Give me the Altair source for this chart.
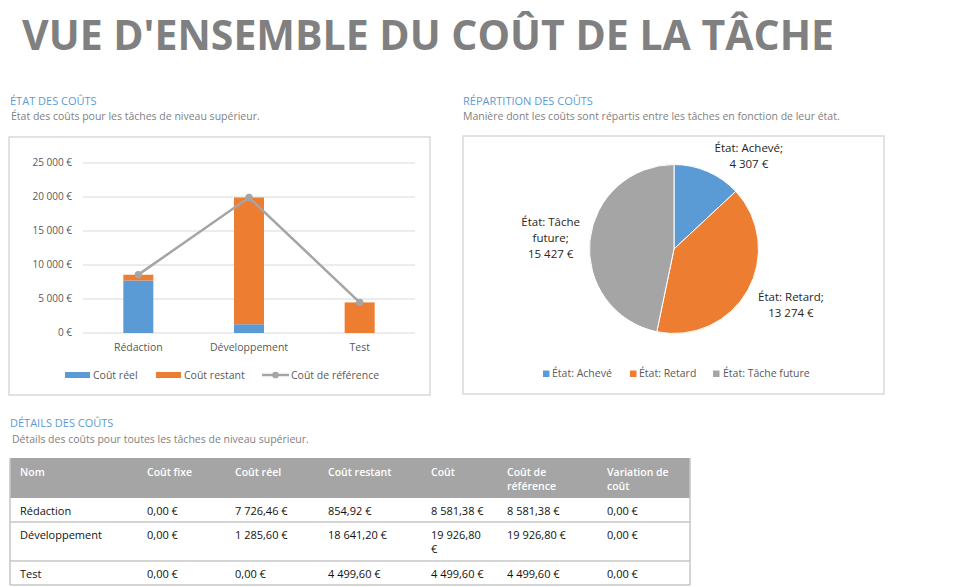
import math
import textwrap

import altair as alt
import pandas as pd

# ---------------- data ----------------
TASKS = ["Rédaction", "Développement", "Test"]
FIXED_COST = [0.00, 0.00, 0.00]
ACTUAL_COST = [7726.46, 1285.60, 0.00]
REMAINING_COST = [854.92, 18641.20, 4499.60]
COST = [8581.38, 19926.80, 4499.60]
BASELINE_COST = [8581.38, 19926.80, 4499.60]
COST_VARIANCE = [0.00, 0.00, 0.00]

STATES = ["État: Achevé", "État: Retard", "État: Tâche future"]
STATE_COSTS = [4307, 13274, 15427]

Y_TICKS = [0, 5000, 10000, 15000, 20000, 25000]
SERIES = ["Coût réel", "Coût restant", "Coût de référence"]
TABLE_COLUMNS = ["Nom", "Coût fixe", "Coût réel", "Coût restant", "Coût",
                 "Coût de référence", "Variation de coût"]

TITLE = "VUE D'ENSEMBLE DU COÛT DE LA TÂCHE"

# ---------------- style / layout ----------------
FONT = "Open Sans"
BLUE, ORANGE, GRAY = "#5b9bd5", "#ed7d31", "#a5a5a5"
HEAD_BLUE = "#5b9bd5"
SUB_GRAY = "#7f7f7f"
AXIS_TXT = "#595959"
GRID = "#d9d9d9"
BORDER = "#d9d9d9"
TABLE_LINE = "#c6c6c6"

BAR_X_RANGE = [83, 415]
BAR_Y_RANGE = [333, 163]
BAR_Y_DOMAIN = [0, 25000]

PIE_CX, PIE_CY, PIE_R = 674, 249, 84.5
LABEL_R = 125
LABEL_NUDGE = {"État: Achevé": (25, 15), "État: Retard": (8, -12), "État: Tâche future": (1, -13)}

TABLE_LEFT = 10
COL_WIDTHS = [127, 88, 93, 103, 76, 100, 93]
COL_WRAP = [20, 14, 14, 16, 10, 12, 12]
HEADER_TOP, HEADER_BOTTOM = 458, 498
ROW_BOUNDS = [498, 522, 561, 585]


def fr_int(v):
    return f"{v:,.0f}".replace(",", " ") + " €"


def fr_money(v):
    return f"{v:,.2f}".replace(",", " ").replace(".", ",") + " €"


def text_at(txt, x, y, size, color, weight="normal", align="left", baseline="alphabetic"):
    return alt.Chart(pd.DataFrame({"t": [txt]})).mark_text(
        align=align, baseline=baseline, fontSize=size, color=color,
        font=FONT, fontWeight=weight
    ).encode(x=alt.value(x), y=alt.value(y), text="t:N")


def box(x1, x2, y1, y2, fill=None, stroke=None, sw=1):
    kw = {}
    if fill is not None:
        kw["fill"] = fill
    else:
        kw["fillOpacity"] = 0
    if stroke is not None:
        kw["stroke"] = stroke
        kw["strokeWidth"] = sw
    return alt.Chart(pd.DataFrame({"a": [0]})).mark_rect(**kw).encode(
        x=alt.value(x1), x2=alt.value(x2), y=alt.value(y1), y2=alt.value(y2))


def hline(x1, x2, y, color, sw=1):
    return alt.Chart(pd.DataFrame({"a": [0]})).mark_rule(color=color, strokeWidth=sw).encode(
        x=alt.value(x1), x2=alt.value(x2), y=alt.value(y))


def vline(x, y1, y2, color, sw=1):
    return alt.Chart(pd.DataFrame({"a": [0]})).mark_rule(color=color, strokeWidth=sw).encode(
        x=alt.value(x), y=alt.value(y1), y2=alt.value(y2))


layers = []

# ---------------- titles ----------------
layers.append(text_at(TITLE, 22, 50, 41, "#808080", weight="bold"))
layers.append(text_at("ÉTAT DES COÛTS", 10, 105, 11, HEAD_BLUE))
layers.append(text_at("État des coûts pour les tâches de niveau supérieur.", 11, 119.5, 10.5, SUB_GRAY))
layers.append(text_at("RÉPARTITION DES COÛTS", 463, 104.5, 11, HEAD_BLUE))
layers.append(text_at("Manière dont les coûts sont répartis entre les tâches en fonction de leur état.",
                      463, 120, 10.5, SUB_GRAY))
layers.append(text_at("DÉTAILS DES COÛTS", 10, 427, 11, HEAD_BLUE))
layers.append(text_at("Détails des coûts pour toutes les tâches de niveau supérieur.", 12, 443, 10.5, SUB_GRAY))

# panel borders
layers.append(box(9, 430, 137, 395, stroke=BORDER, sw=1.5))
layers.append(box(463, 884, 136, 394, stroke=BORDER, sw=1.5))

# ---------------- bar chart ----------------
x_scale = alt.Scale(type="point", domain=TASKS, range=BAR_X_RANGE, padding=0.5)
y_scale = alt.Scale(domain=BAR_Y_DOMAIN, range=BAR_Y_RANGE, nice=False, zero=True)

tick_df = pd.DataFrame({"v": Y_TICKS, "lab": [fr_int(v) for v in Y_TICKS]})
layers.append(alt.Chart(tick_df).mark_rule(color=GRID, strokeWidth=1).encode(
    y=alt.Y("v:Q", scale=y_scale, axis=None),
    x=alt.value(BAR_X_RANGE[0]), x2=alt.value(BAR_X_RANGE[1])))
layers.append(alt.Chart(tick_df).mark_text(
    align="right", baseline="middle", fontSize=10, color=AXIS_TXT, font=FONT).encode(
    y=alt.Y("v:Q", scale=y_scale, axis=None), x=alt.value(72), text="lab:N"))

bar_rows = []
for i, t in enumerate(TASKS):
    bar_rows.append({"task": t, "series": SERIES[0], "value": ACTUAL_COST[i], "k": 0})
    bar_rows.append({"task": t, "series": SERIES[1], "value": REMAINING_COST[i], "k": 1})
bar_df = pd.DataFrame(bar_rows)
layers.append(alt.Chart(bar_df).mark_bar(size=30).encode(
    x=alt.X("task:N", scale=x_scale, axis=None),
    y=alt.Y("value:Q", stack="zero", scale=y_scale, axis=None),
    color=alt.Color("series:N", scale=alt.Scale(domain=SERIES[:2], range=[BLUE, ORANGE]), legend=None),
    order=alt.Order("k:Q")))

line_df = pd.DataFrame({"task": TASKS, "base": BASELINE_COST})
layers.append(alt.Chart(line_df).mark_line(color=GRAY, strokeWidth=2.5).encode(
    x=alt.X("task:N", scale=x_scale, axis=None),
    y=alt.Y("base:Q", scale=y_scale, axis=None)))
layers.append(alt.Chart(line_df).mark_point(color=GRAY, filled=True, opacity=1, size=55).encode(
    x=alt.X("task:N", scale=x_scale, axis=None),
    y=alt.Y("base:Q", scale=y_scale, axis=None)))

layers.append(alt.Chart(pd.DataFrame({"task": TASKS})).mark_text(
    baseline="middle", fontSize=10.5, color=AXIS_TXT, font=FONT).encode(
    x=alt.X("task:N", scale=x_scale, axis=None), y=alt.value(348), text="task:N"))

# bar legend
layers.append(box(65, 90, 372, 378, fill=BLUE))
layers.append(text_at(SERIES[0], 93, 375.5, 10.5, AXIS_TXT, baseline="middle"))
layers.append(box(156, 181, 372, 378, fill=ORANGE))
layers.append(text_at(SERIES[1], 184, 375.5, 10.5, AXIS_TXT, baseline="middle"))
layers.append(hline(262, 289, 375, GRAY, 2.5))
layers.append(alt.Chart(pd.DataFrame({"a": [0]})).mark_point(
    color=GRAY, filled=True, opacity=1, size=45).encode(x=alt.value(275.5), y=alt.value(375)))
layers.append(text_at(SERIES[2], 291, 375.5, 10.5, AXIS_TXT, baseline="middle"))

# ---------------- pie chart ----------------
def pie_label(state, v):
    lines = textwrap.wrap(state + ";", 13) + [fr_int(v)]
    return "\n".join(lines)


TOTAL = sum(STATE_COSTS)
pie_df = pd.DataFrame({"state": STATES, "cost": STATE_COSTS, "k": list(range(len(STATES))),
                       "label": [pie_label(s, v) for s, v in zip(STATES, STATE_COSTS)]})
theta_scale = alt.Scale(domain=[0, TOTAL])
layers.append(alt.Chart(pie_df).mark_arc(radius=PIE_R, stroke="white", strokeWidth=1).encode(
    theta=alt.Theta("cost:Q", stack=True, scale=theta_scale),
    color=alt.Color("state:N", scale=alt.Scale(domain=STATES, range=[BLUE, ORANGE, GRAY]), legend=None),
    order=alt.Order("k:Q"),
    x=alt.value(PIE_CX), y=alt.value(PIE_CY)))
for s in STATES:
    dx, dy = LABEL_NUDGE[s]
    layers.append(alt.Chart(pie_df).transform_stack(
        stack="cost", groupby=[], as_=["c0", "c1"], sort=[alt.SortField("k", order="ascending")]
    ).transform_calculate(mid="(datum.c0 + datum.c1) / 2").transform_filter(
        alt.datum.state == s
    ).mark_text(
        radius=LABEL_R, fontSize=11.5, color="#262626", font=FONT, lineBreak="\n",
        lineHeight=16, align="center", baseline="middle", dx=dx, dy=dy).encode(
        theta=alt.Theta("mid:Q", scale=theta_scale), text="label:N",
        x=alt.value(PIE_CX), y=alt.value(PIE_CY)))

# pie legend
for sq_x, txt_x, col, s in [(543, 552, BLUE, STATES[0]), (630, 639, ORANGE, STATES[1]),
                            (713, 723, GRAY, STATES[2])]:
    layers.append(box(sq_x, sq_x + 6.5, 370.5, 377, fill=col))
    layers.append(text_at(s, txt_x, 374, 10.5, AXIS_TXT, baseline="middle"))

# ---------------- table ----------------
table_right = TABLE_LEFT + sum(COL_WIDTHS)
col_starts = [TABLE_LEFT + sum(COL_WIDTHS[:i]) for i in range(len(COL_WIDTHS))]

layers.append(box(TABLE_LEFT, table_right, HEADER_TOP, HEADER_BOTTOM, fill=GRAY))
for yb in ROW_BOUNDS[1:]:
    layers.append(hline(TABLE_LEFT, table_right, yb, TABLE_LINE, 1.5))
layers.append(vline(TABLE_LEFT, HEADER_TOP, ROW_BOUNDS[-1], TABLE_LINE, 1.5))
layers.append(vline(table_right, HEADER_TOP, ROW_BOUNDS[-1], TABLE_LINE, 1.5))

pix = alt.Scale(domain=[0, 970], range=[0, 970])
piy = alt.Scale(domain=[0, 587], range=[0, 587])

head_rows = []
for j, c in enumerate(TABLE_COLUMNS):
    head_rows.append({"txt": "\n".join(textwrap.wrap(c, COL_WRAP[j])),
                      "px": col_starts[j] + 10, "py": HEADER_TOP + 17.5})
layers.append(alt.Chart(pd.DataFrame(head_rows)).mark_text(
    align="left", baseline="alphabetic", fontSize=10.5, fontWeight=600, color="white",
    font=FONT, lineBreak="\n", lineHeight=14).encode(
    x=alt.X("px:Q", scale=pix, axis=None), y=alt.Y("py:Q", scale=piy, axis=None), text="txt:N"))

body_rows = []
for i, t in enumerate(TASKS):
    vals = [t] + [fr_money(a[i]) for a in (FIXED_COST, ACTUAL_COST, REMAINING_COST, COST,
                                             BASELINE_COST, COST_VARIANCE)]
    for j, v in enumerate(vals):
        body_rows.append({"txt": "\n".join(textwrap.wrap(v, COL_WRAP[j])),
                          "px": col_starts[j] + 10, "py": ROW_BOUNDS[i] + 16.5})
layers.append(alt.Chart(pd.DataFrame(body_rows)).mark_text(
    align="left", baseline="alphabetic", fontSize=11, color="#111111",
    font=FONT, lineBreak="\n", lineHeight=14).encode(
    x=alt.X("px:Q", scale=pix, axis=None), y=alt.Y("py:Q", scale=piy, axis=None), text="txt:N"))

chart = alt.layer(*layers).resolve_scale(
    x="independent", y="independent", color="independent", theta="independent"
).properties(
    width=970, height=587, autosize=alt.AutoSizeParams(type="none"), padding=0,
    background="white"
).configure_view(stroke=None)

chart.save("out.html", embed_options={"renderer": "svg", "actions": False})
